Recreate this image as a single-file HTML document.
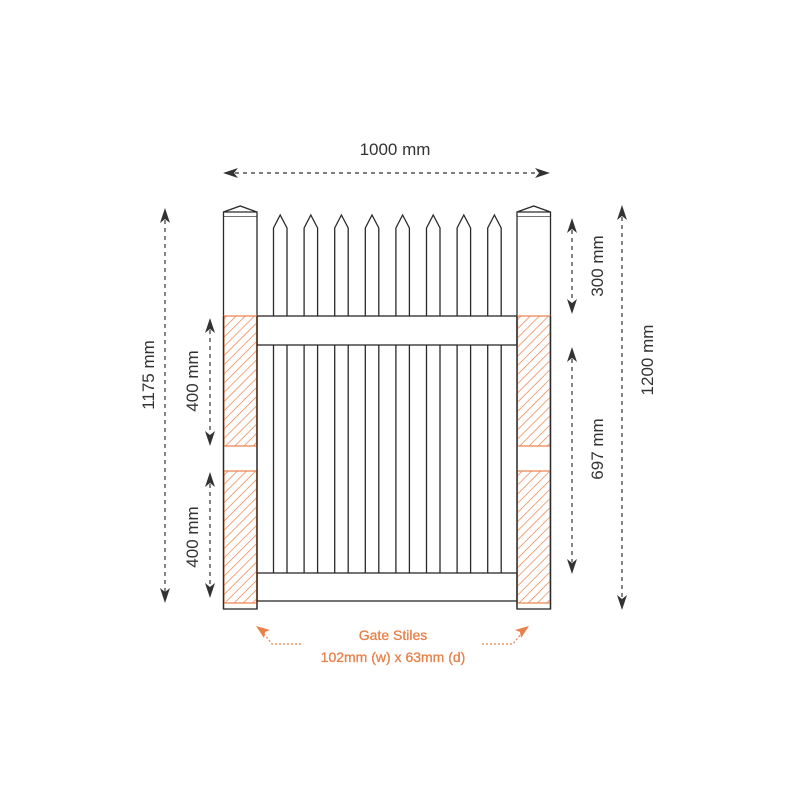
<!DOCTYPE html>
<html><head><meta charset="utf-8"><style>
html,body{margin:0;padding:0;background:#fff;}
svg{display:block;}
text{font-family:"Liberation Sans",sans-serif;}
</style></head><body>
<svg width="800" height="800" viewBox="0 0 800 800" xmlns="http://www.w3.org/2000/svg">
<defs>
<pattern id="h" width="6.5" height="6.5" patternUnits="userSpaceOnUse" patternTransform="rotate(45)">
<line x1="0" y1="0" x2="0" y2="6.5" stroke="#e8804a" stroke-width="1.4"/>
</pattern>
</defs>
<g fill="#fff" stroke="#2a2a2a" stroke-width="1.3">
<g id="pk">
<path d="M273.5,573 V228 L280.2,215 L287,228 V573"/>
</g>
<use href="#pk" x="30.6"/><use href="#pk" x="61.2"/><use href="#pk" x="91.8"/>
<use href="#pk" x="122.4"/><use href="#pk" x="153"/><use href="#pk" x="183.6"/><use href="#pk" x="214.2"/>
<rect x="257" y="316" width="260" height="29"/>
<rect x="257" y="573" width="260" height="28"/>
<rect x="223.5" y="216" width="33.5" height="393"/>
<rect x="517" y="216" width="33.5" height="393"/>
<path d="M223.5,212 H257 M223.5,216 V212 L240.2,206 L257,212 V216"/>
<path d="M517,212 H550.5 M517,216 V212 L533.7,206 L550.5,212 V216"/>
</g>
<g fill="url(#h)" stroke="#e8804a" stroke-width="1.2">
<rect x="224" y="316" width="32.5" height="130"/>
<rect x="224" y="471" width="32.5" height="132"/>
<rect x="517.5" y="316" width="32.5" height="130"/>
<rect x="517.5" y="471" width="32.5" height="132"/>
</g>
<g stroke="#2a2a2a" stroke-width="1.3" fill="none">
<line x1="223.5" y1="316" x2="223.5" y2="609"/><line x1="257" y1="316" x2="257" y2="609"/>
<line x1="517" y1="316" x2="517" y2="609"/><line x1="550.5" y1="316" x2="550.5" y2="609"/>
</g>
<g stroke="#333" stroke-width="1.2" stroke-dasharray="4,4" fill="none">
<line x1="235" y1="173" x2="538" y2="173"/>
<line x1="165" y1="220" x2="165" y2="592"/>
<line x1="210" y1="330" x2="210" y2="434"/>
<line x1="210" y1="484" x2="210" y2="586"/>
<line x1="572" y1="230" x2="572" y2="302"/>
<line x1="572" y1="359" x2="572" y2="562"/>
<line x1="622" y1="217" x2="622" y2="598"/>
</g>
<g fill="#333">
<path d="M223,173 l15,-5 l-4,5 l4,5 z"/>
<path d="M550,173 l-15,-5 l4,5 l-4,5 z"/>
<path d="M165,208 l5,15 l-5,-4 l-5,4 z"/><path d="M165,603 l5,-15 l-5,4 l-5,-4 z"/>
<path d="M210,318 l5,15 l-5,-4 l-5,4 z"/><path d="M210,446 l5,-15 l-5,4 l-5,-4 z"/>
<path d="M210,472 l5,15 l-5,-4 l-5,4 z"/><path d="M210,598 l5,-15 l-5,4 l-5,-4 z"/>
<path d="M572,218 l5,15 l-5,-4 l-5,4 z"/><path d="M572,314 l5,-15 l-5,4 l-5,-4 z"/>
<path d="M572,347 l5,15 l-5,-4 l-5,4 z"/><path d="M572,574 l5,-15 l-5,4 l-5,-4 z"/>
<path d="M622,205 l5,15 l-5,-4 l-5,4 z"/><path d="M622,610 l5,-15 l-5,4 l-5,-4 z"/>
</g>
<g fill="#333" font-size="17" text-anchor="middle">
<text x="395" y="155">1000 mm</text>
<text transform="translate(154,375) rotate(-90)">1175 mm</text>
<text transform="translate(198,381) rotate(-90)">400 mm</text>
<text transform="translate(198,537) rotate(-90)">400 mm</text>
<text transform="translate(603,266) rotate(-90)">300 mm</text>
<text transform="translate(603,449) rotate(-90)">697 mm</text>
<text transform="translate(653,360) rotate(-90)">1200 mm</text>
</g>
<g stroke="#e8804a" stroke-width="1.2" stroke-dasharray="2,2" fill="none">
<path d="M301,644 H272 L264,634"/>
<path d="M482,644 H513 L521,634"/>
</g>
<g fill="#e8804a">
<path d="M256,626 l14,4 l-5,2 l-1,6 z"/>
<path d="M529,626 l-14,4 l5,2 l1,6 z"/>
</g>
<g fill="#e8804a" font-size="14" text-anchor="middle" stroke="#e8804a" stroke-width="0.3">
<text x="393" y="640">Gate Stiles</text>
<text x="393" y="662">102mm (w) x 63mm (d)</text>
</g>
</svg>
</body></html>
